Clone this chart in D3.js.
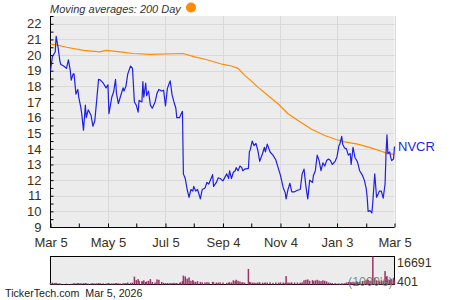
<!DOCTYPE html>
<html>
<head>
<meta charset="utf-8">
<script src="https://cdn.jsdelivr.net/npm/d3@7"></script>
<style>
  body { margin: 0; background: #fff; }
  text { font-family: "Liberation Sans", Arial, sans-serif; }
</style>
</head>
<body>
<svg id="chart" width="450" height="300"></svg>
<script>
// data: days after Mar 5, 2025 / closing price / volume (1000's)
const startDate = new Date(2025, 2, 5);
const dayOffsets = [
  0,2,4,5,6,8,10,11,14,17, 19,21,22,24,25,27,29,30,32,33,
  35,37,38,40,43,45,47,49,51,53, 56,59,61,62,65,67,69,70,72,74,
  77,78,80,82,85,87,89,91,93,94, 97,98,99,101,102,104,106,108,111,113,
  115,118,120,122,124,126,127,129,131,133, 134,137,138,140,141,143,145,147,149,151,
  152,154,156,159,161,164,166,168,172,173, 176,178,180,183,187,189,190,192,194,196,
  197,199,201,203,204,206,210,211,212,214, 216,218,220,222,225,227,228,230,233,236,
  239,242,244,247,249,250,252,254,256,259, 262,265,267,269,271,273,275,278,279,281,
  283,285,287,289,291,293,295,297,299,302, 304,306,307,309,310,312,314,316,318,319,
  321,323,325,326,328,331,333,335,336,337, 339,341,342,344,346,348,349,351,353,355,
  356,357,358,360,361,362,364,365
];
const closePrices = [
  19.0,19.9,20.1,20.2,21.2,20.5,19.6,19.4,19.3,19.15, 19.7,19.0,18.4,18.8,18.8,17.5,17.8,17.3,16.7,16.3,
  15.2,16.8,16.0,16.5,16.15,15.45,15.8,17.1,18.45,18.4, 18.2,17.9,18.1,16.25,17.3,17.65,18.45,17.55,16.9,17.3,
  17.9,17.7,18.0,18.8,19.3,19.15,17.0,16.8,16.35,17.1, 17.0,18.3,17.3,18.2,17.4,17.7,16.8,16.6,17.0,17.55,
  17.8,17.7,17.75,16.75,17.85,18.2,18.35,17.45,17.0,16.6, 16.0,16.0,16.15,16.4,12.4,12.1,11.4,10.9,11.4,11.3,
  11.6,11.3,11.4,10.8,11.4,11.5,11.85,11.75,12.35,11.6, 11.85,12.15,12.1,11.95,12.4,12.1,12.6,12.1,12.5,12.6,
  12.8,12.6,12.9,12.8,12.6,12.7,12.75,13.8,13.95,14.5, 14.2,14.35,13.9,13.2,13.7,14.1,13.8,14.3,13.8,13.6,
  13.3,12.7,12.3,11.5,11.2,10.8,11.4,11.8,11.25,11.25, 11.35,11.4,12.4,12.7,11.6,10.8,12.0,11.85,12.3,12.6,
  13.6,13.25,12.6,13.1,12.9,13.25,13.35,13.25,13.0,13.2, 13.5,14.2,14.3,14.8,14.3,14.05,14.0,13.6,13.7,13.0,
  14.1,13.45,13.25,13.1,12.6,12.3,12.0,11.45,10.9,10.0, 10.05,9.9,10.6,12.4,10.9,11.15,11.3,11.3,10.85,11.75,
  13.7,14.9,13.7,13.8,13.45,13.25,13.35,14.15
];
const volumes = [
  900,1100,800,700,1000,600,700,400,300,500, 300,200,400,600,800,700,900,800,700,600,
  800,900,700,600,700,800,600,700,900,800, 700,600,800,900,700,600,800,900,700,600,
  700,800,900,1200,1000,1100,4700,2600,3200,2200, 2000,1800,2500,1500,1800,2200,3200,1500,1200,3000,
  2800,1500,1000,800,900,700,800,900,1000,800, 900,1000,1300,2000,5300,4800,3500,4200,2200,2600,
  1800,1500,2000,1500,1300,1200,1400,1200,1600,1300, 1200,1100,1300,1200,1000,1100,1300,1200,2500,2000,
  2800,2200,1800,1200,1300,1100,9300,1500,1300,1200, 1100,1000,1200,1300,1100,1000,1200,1100,1300,1000,
  1200,1100,1300,1200,1000,5000,1200,1100,1300,1200, 1200,1100,1300,2500,2800,3000,2200,2600,2000,2400,
  2800,2300,2000,2500,2200,1800,1200,1000,900,800, 500,600,400,700,500,800,1200,1500,1400,1300,
  1600,1400,1800,1500,1700,2000,2200,2500,3000,2800, 2300,2000,16691,4000,2500,2200,1800,2500,2000,8000,
  4500,5000,3000,2800,3500,3000,4000,2500
];
// 200 day moving average
const maDays = [0,6,17,35,52,59,74,88,106,141,152,166,183,192,199,206,213,220,231,242,252,263,277,291,303,312,326,341,351,358,365];
const maValues = [20.7,20.65,20.5,20.3,20.2,20.3,20.2,20.1,20.05,20.1,19.9,19.7,19.4,19.3,19.15,18.7,18.35,17.95,17.4,16.85,16.25,15.8,15.25,14.85,14.6,14.45,14.3,14.05,13.85,13.7,13.65];

const majorTicks = ["2025-03-05","2025-05-05","2025-07-05","2025-09-04","2025-11-04","2026-01-03","2026-03-05"];
const minorTicks = ["2025-04-04","2025-06-04","2025-08-04","2025-10-04","2025-12-04","2026-02-03"];
const tickLabels = ["Mar 5","May 5","Jul 5","Sep 4","Nov 4","Jan 3","Mar 5"];
const symbol = "NVCR";
const volMax = 16691, volMin = 401;

const svg = d3.select('#chart');
const parse = d3.timeParse('%Y-%m-%d');
const toDate = d => d3.timeDay.offset(startDate, d);

const x = d3.scaleTime()
  .domain([startDate, d3.timeDay.offset(startDate, 365)])
  .range([50.5, 394.5]);
const y = d3.scaleLinear().domain([9, 22.5]).range([227, 16]);
const yv = d3.scaleLinear().domain([0, volMax]).range([284.5, 256.5]);

const labelColor = '#3b2f14';

// plot background + grid
svg.append('rect').attr('x', 50.5).attr('y', 16).attr('width', 344).attr('height', 211).attr('fill', '#ececec');
svg.append('g').selectAll('line').data(d3.range(10, 23)).join('line')
  .attr('x1', 51).attr('x2', 394.5)
  .attr('y1', d => Math.round(y(d)) + 0.5).attr('y2', d => Math.round(y(d)) + 0.5)
  .attr('stroke', '#d9d9d9');
svg.append('g').selectAll('line').data(majorTicks.slice(1)).join('line')
  .attr('x1', d => Math.round(x(parse(d))) + 0.5).attr('x2', d => Math.round(x(parse(d))) + 0.5)
  .attr('y1', 16).attr('y2', 227)
  .attr('stroke', '#d9d9d9');

// axes
const yAxis = d3.axisLeft(y)
  .tickValues(d3.range(9, 22.51, 0.5))
  .tickSize(-3)
  .tickPadding(9)
  .tickFormat(d => Number.isInteger(d) ? d : '');
const gy = svg.append('g').attr('transform', 'translate(50.5,0)').call(yAxis);
gy.select('.domain').attr('d', 'M0,16V227.5');
gy.selectAll('text').attr('font-size', 13).attr('fill', labelColor).attr('font-family', '"Liberation Sans", Arial, sans-serif');

const xAxis = d3.axisBottom(x)
  .tickValues(majorTicks.map(parse).concat(minorTicks.map(parse)))
  .tickSize(-4)
  .tickPadding(10)
  .tickFormat(d => {
    const i = majorTicks.indexOf(d3.timeFormat('%Y-%m-%d')(d));
    return i >= 0 ? tickLabels[i] : '';
  });
const gx = svg.append('g').attr('transform', 'translate(0,227.5)').call(xAxis);
gx.select('.domain').attr('d', 'M50.5,0H394.5');
gx.selectAll('text').attr('font-size', 13).attr('fill', labelColor).attr('font-family', '"Liberation Sans", Arial, sans-serif');

// moving average
svg.append('path')
  .datum(maDays.map((d, i) => [toDate(d), maValues[i]]))
  .attr('fill', 'none').attr('stroke', '#ff8c00').attr('stroke-width', 1.2)
  .attr('d', d3.line().x(d => x(d[0])).y(d => y(d[1])));

// price line
svg.append('path')
  .datum(dayOffsets.map((d, i) => [toDate(d), closePrices[i]]))
  .attr('fill', 'none').attr('stroke', '#1f1fe6').attr('stroke-width', 1.2)
  .attr('stroke-linejoin', 'round')
  .attr('d', d3.line().x(d => x(d[0])).y(d => y(d[1])));

svg.append('text').attr('x', 398).attr('y', y(closePrices[closePrices.length - 1]) + 4)
  .attr('font-size', 13).attr('fill', '#1f1fe6').text(symbol);

// title
svg.append('text').attr('x', 50).attr('y', 12.5)
  .attr('font-size', 11).attr('font-style', 'italic').attr('fill', '#333')
  .text('Moving averages: 200 Day');
svg.append('circle').attr('cx', 191).attr('cy', 7.5).attr('r', 5).attr('fill', '#ff8c00');

// volume panel
svg.append('rect').attr('x', 50.5).attr('y', 256.5).attr('width', 344).attr('height', 28)
  .attr('fill', '#ececec').attr('stroke', '#000');
svg.append('g').selectAll('rect').data(dayOffsets).join('rect')
  .attr('x', d => x(toDate(d)) - 0.75)
  .attr('width', 1.5)
  .attr('y', (d, i) => yv(volumes[i]))
  .attr('height', (d, i) => yv(0) - yv(volumes[i]))
  .attr('fill', '#9c3366');
svg.append('text').attr('x', 348).attr('y', 285.5).attr('font-size', 12.5).attr('fill', '#5e8a6c').attr('fill-opacity', 0.9).text("(1000's)");
svg.append('text').attr('x', 397).attr('y', 267).attr('font-size', 12.5).attr('fill', labelColor).text(volMax);
svg.append('text').attr('x', 397).attr('y', 285.5).attr('font-size', 12.5).attr('fill', labelColor).text(volMin);

// footer
svg.append('text').attr('x', 5).attr('y', 297).attr('font-size', 10.7).attr('fill', '#222')
  .attr('xml:space', 'preserve').text('TickerTech.com  Mar 5, 2026');
</script>
</body>
</html>
